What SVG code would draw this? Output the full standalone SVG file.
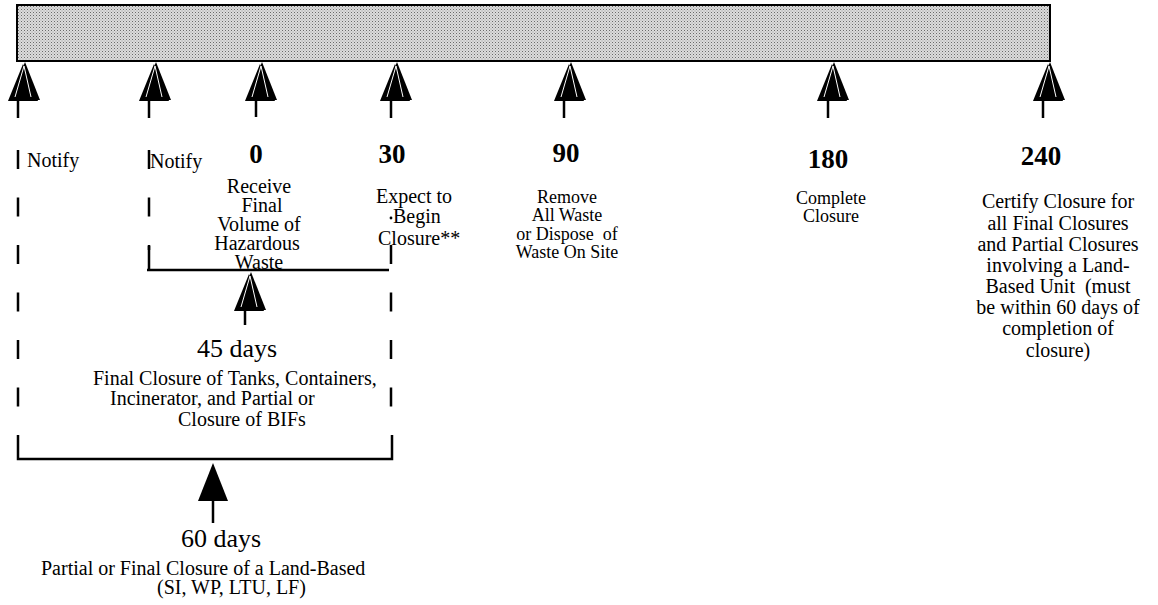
<svg xmlns="http://www.w3.org/2000/svg" xmlns:xlink="http://www.w3.org/1999/xlink" width="1158" height="605" viewBox="0 0 1158 605">
<style>
.t{font-family:"Liberation Serif","Times New Roman",serif;font-size:20px;fill:#000}
.c{text-anchor:middle}
.num{font-weight:bold;font-size:27px}
.big{font-size:26px}
.mid{font-size:18px}
.lft{font-size:20px}
.ln{stroke:#000;stroke-width:2.5;fill:none}
.dash{stroke:#000;stroke-width:2.5;fill:none;stroke-dasharray:19 28.5}
.stem{stroke:#000;stroke-width:2.5}
</style>
<defs>
<pattern id="dots" width="3" height="3" patternUnits="userSpaceOnUse">
<rect width="3" height="3" fill="#dcdcdc"/>
<rect width="1" height="1" fill="#6a6a6a"/>
<rect x="1.5" y="1.5" width="1" height="1" fill="#9a9a9a"/>
</pattern>
<g id="head">
<polygon points="-2,2 -17,39 13,39" fill="#000"/>
<polygon points="0,0 -15,38 15,38" fill="#000"/>
<polyline points="-10,35 -1,4 6,35" fill="none" stroke="#fff" stroke-width="1"/>
</g>
</defs>
<rect width="1158" height="605" fill="#fff"/>

<g id="timeline-bar">
<rect x="17" y="5" width="1033" height="56" fill="url(#dots)" stroke="#000" stroke-width="2"/>
</g>

<g id="connectors">
<use xlink:href="#head" transform="translate(25,62)"/>
<line class="stem" x1="18" y1="100" x2="18" y2="118"/>
<use xlink:href="#head" transform="translate(156,62)"/>
<line class="stem" x1="149" y1="100" x2="149" y2="118"/>
<use xlink:href="#head" transform="translate(262,62)"/>
<line class="stem" x1="256" y1="100" x2="256" y2="117"/>
<use xlink:href="#head" transform="translate(397,62)"/>
<line class="stem" x1="391" y1="100" x2="391" y2="118"/>
<use xlink:href="#head" transform="translate(571,62)"/>
<line class="stem" x1="564" y1="100" x2="564" y2="118"/>
<use xlink:href="#head" transform="translate(834,62)"/>
<line class="stem" x1="828" y1="100" x2="828" y2="118"/>
<use xlink:href="#head" transform="translate(1050,62)"/>
<line class="stem" x1="1043" y1="100" x2="1043" y2="118"/>

<line class="dash" x1="18" y1="150" x2="18" y2="430"/>
<path class="ln" d="M18 435 V459 H392 V435"/>
<line class="dash" x1="391" y1="245" x2="391" y2="420"/>
<line class="dash" x1="149" y1="150" x2="149" y2="250"/>
<path class="ln" d="M149 246 V270 M147 270 H389"/>

<use xlink:href="#head" transform="translate(251,272)"/>
<line class="stem" x1="245" y1="309" x2="245" y2="325"/>
<polygon points="213,463 198,501 228,501" fill="#000"/>
<line class="stem" x1="213" y1="500" x2="213" y2="523"/>
</g>

<g id="notify-1"><text class="t" x="27" y="167">Notify</text></g>
<g id="notify-2"><text class="t" x="150" y="168">Notify</text></g>

<g id="day-0">
<text class="t c num" x="256" y="163">0</text>
<text class="t c lft" x="259" y="193">Receive</text>
<text class="t c lft" x="262" y="212">Final</text>
<text class="t c lft" x="259" y="231">Volume of</text>
<text class="t c lft" x="257" y="250">Hazardous</text>
<text class="t c lft" x="259" y="269">Waste</text>
</g>

<g id="day-30">
<text class="t c num" x="392" y="163">30</text>
<text class="t" x="376" y="203">Expect to</text>
<circle cx="391" cy="218" r="1.4" fill="#000"/>
<text class="t" x="393" y="223">Begin</text>
<text class="t" x="378" y="245">Closure**</text>
</g>

<g id="day-90">
<text class="t c num" x="566" y="162">90</text>
<text class="t c mid" x="567" y="203">Remove</text>
<text class="t c mid" x="567" y="221">All Waste</text>
<text class="t c mid" x="567" y="240">or Dispose&#160; of</text>
<text class="t c mid" x="567" y="258">Waste On Site</text>
</g>

<g id="day-180">
<text class="t c num" x="828" y="168">180</text>
<text class="t c mid" x="831" y="204">Complete</text>
<text class="t c mid" x="831" y="222">Closure</text>
</g>

<g id="day-240">
<text class="t c num" x="1041" y="165">240</text>
<text class="t c" x="1058" y="208">Certify Closure for</text>
<text class="t c" x="1058" y="230">all Final Closures</text>
<text class="t c" x="1058" y="251">and Partial Closures</text>
<text class="t c" x="1058" y="272">involving a Land-</text>
<text class="t c" x="1058" y="293">Based Unit&#160; (must</text>
<text class="t c" x="1058" y="314">be within 60 days of</text>
<text class="t c" x="1058" y="335">completion of</text>
<text class="t c" x="1058" y="357">closure)</text>
</g>

<g id="period-45">
<text class="t c big" x="237" y="357">45 days</text>
<text class="t" x="93" y="385">Final Closure of Tanks, Containers,</text>
<text class="t" x="110" y="405">Incinerator, and Partial or</text>
<text class="t" x="178" y="426">Closure of BIFs</text>
</g>

<g id="period-60">
<text class="t c big" x="221" y="547">60 days</text>
<text class="t" x="41" y="575">Partial or Final Closure of a Land-Based</text>
<text class="t" x="157" y="594">(SI, WP, LTU, LF)</text>
</g>
</svg>
